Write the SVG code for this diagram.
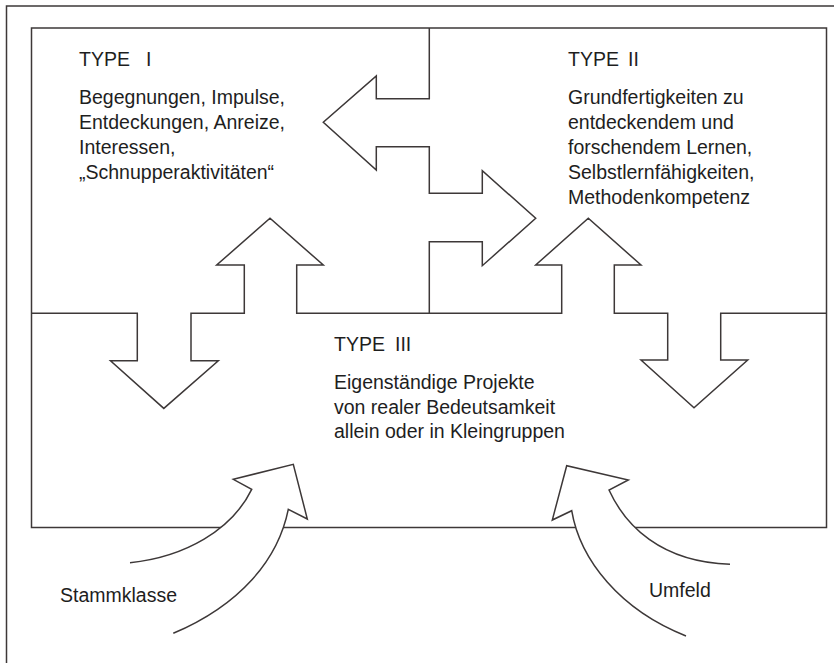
<svg xmlns="http://www.w3.org/2000/svg" width="834" height="663" viewBox="0 0 834 663">
<style>
.ln{fill:none;stroke:#3d3838;stroke-width:1.5;stroke-linejoin:miter}
.ar{fill:#ffffff;stroke:#3d3838;stroke-width:1.5;stroke-linejoin:miter}
text{font-family:"Liberation Sans",Arial,sans-serif;font-size:19.5px;fill:#1e1e1e}
</style>
<rect x="0" y="0" width="834" height="663" fill="#ffffff"/>
<g id="frame">
<path class="ln" d="M6.5,663 V6 H834"/>
<rect class="ln" x="31.5" y="28" width="795" height="499.5"/>
</g>
<g id="connectors">
<path class="ln" d="M429.3,28 V98.7 H376.3 V76 L323.3,122.3 L376.3,170 V146.7 H429.3 V193.3 H482.3 V170.7 L535.7,218.3 L482.3,265.7 V241.7 H429.3 V313.3"/>
<path class="ln" d="M31.5,313.3 H137.3 V360.7 H110.5 L163.8,408.4 L218.3,360.7 H191 V313.3 H244.3 V265 H216.7 L270,218.3 L323.3,265 H296.7 V313.3 H561.7 V265 H535.7 L588.3,218.3 L641,265 H614.3 V313.3 H667.7 V360 H641 L694,407.7 L747.7,360 H720.7 V313.3 H826.5"/>
<path class="ar" d="M130,562.7 C185,557 232,530 251.7,489.3 L233.3,479.3 L293.3,464.3 L307.3,519 L288.3,509.3 C278,560 240,605 173.3,633.3"/>
<path class="ar" d="M730,564.3 C660,562 625,525 609,490 L628.3,480 L566.7,465.7 L552.3,520 L571.7,510.7 C580,560 620,610 686,636"/>
</g>
<g id="type1">
<text x="79" y="65.7">TYPE<tspan x="146">I</tspan></text>
<text x="79" y="104">Begegnungen, Impulse,</text>
<text x="79" y="129">Entdeckungen, Anreize,</text>
<text x="79" y="154">Interessen,</text>
<text x="79" y="179">„Schnupperaktivitäten“</text>
</g>
<g id="type2">
<text x="568" y="65.7">TYPE<tspan x="628">II</tspan></text>
<text x="568" y="104">Grundfertigkeiten zu</text>
<text x="568" y="129">entdeckendem und</text>
<text x="568" y="154">forschendem Lernen,</text>
<text x="568" y="179">Selbstlernfähigkeiten,</text>
<text x="568" y="204">Methodenkompetenz</text>
</g>
<g id="type3">
<text x="334" y="351">TYPE<tspan x="395">III</tspan></text>
<text x="334" y="389">Eigenständige Projekte</text>
<text x="334" y="413.5">von realer Bedeutsamkeit</text>
<text x="334" y="438">allein oder in Kleingruppen</text>
</g>
<g id="stammklasse">
<text x="60" y="601.7">Stammklasse</text>
</g>
<g id="umfeld">
<text x="649" y="596.7">Umfeld</text>
</g>
</svg>
